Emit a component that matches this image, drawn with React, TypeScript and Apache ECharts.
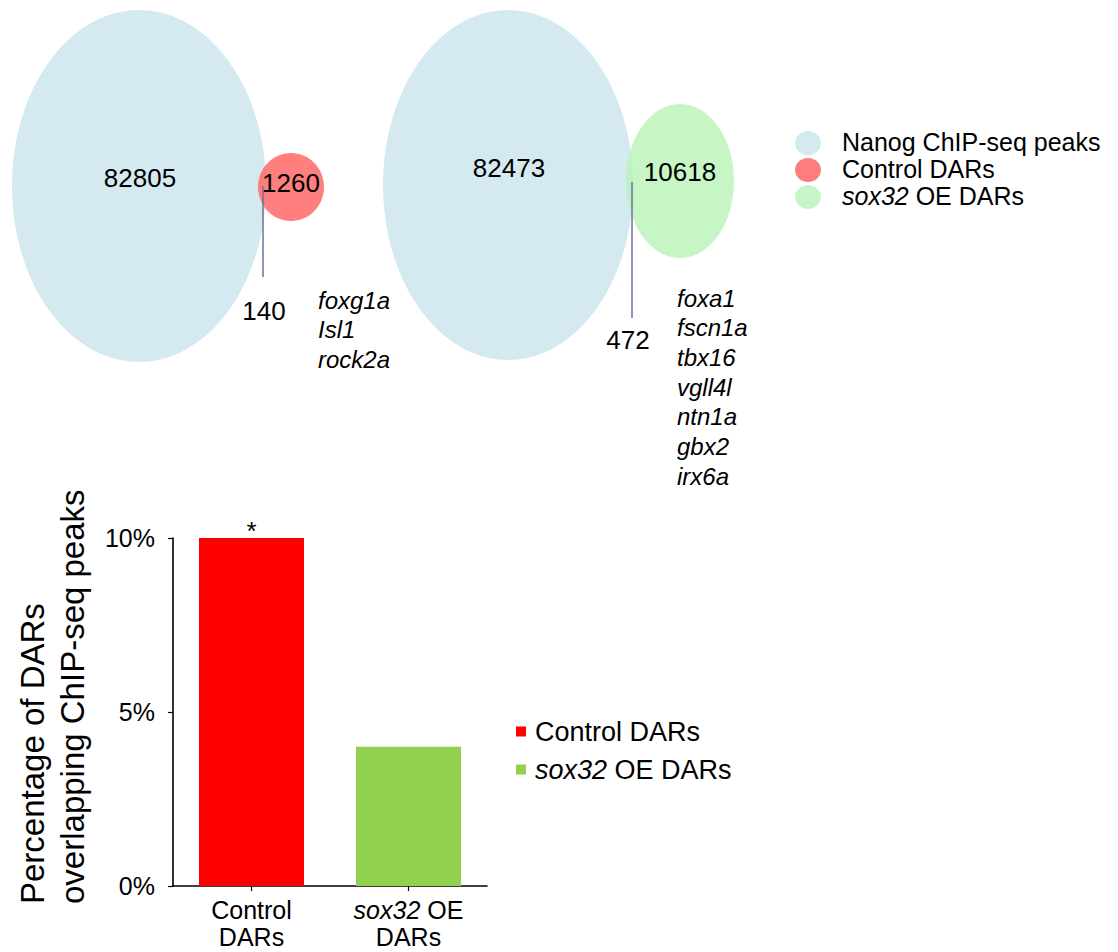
import React, { useEffect, useRef } from "react";
import * as echarts from "echarts";

// ---- data ----
const vennSetNames = ["Nanog ChIP-seq peaks", "Control DARs", "sox32 OE DARs"];
const nanogOnlyCounts = [82805, 82473];
const darOnlyCounts = [1260, 10618];
const sharedCounts = [140, 472];
const sharedGenesControl = ["foxg1a", "Isl1", "rock2a"];
const sharedGenesSox32 = ["foxa1", "fscn1a", "tbx16", "vgll4l", "ntn1a", "gbx2", "irx6a"];

const barCategories = ["Control DARs", "sox32 OE DARs"];
const barValues = [10, 4];
const barSignificance = ["*", ""];
const yTicks = [0, 5, 10];

// ---- styling ----
const FONT = "'Liberation Sans', Arial, Helvetica, sans-serif";
const NANOG_FILL = "#d4eaf0";
const CONTROL_FILL = "rgba(255,112,112,0.9)";
const SOX_FILL = "rgba(184,242,184,0.8)";
const CONTROL_SWATCH = "#ff7d7d";
const SOX_SWATCH = "#c8f5c8";
const BAR_COLORS = ["#ff0000", "#92d050"];
const LINK_COLOR = "#6f6fa0";

// layout of the two Venn panels
const vennLayout = [
  {
    big: { cx: 139, cy: 186, rx: 127, ry: 176 },
    small: { cx: 291, cy: 187, rx: 33, ry: 34 },
    fill: CONTROL_FILL,
    bigLabel: [140, 178],
    smallLabel: [291, 183],
    link: { x: 263, y1: 186, y2: 277 },
    sharedLabel: [264, 311],
    genesX: 318,
    genesY: 300,
    genes: sharedGenesControl,
  },
  {
    big: { cx: 508, cy: 185, rx: 125, ry: 175 },
    small: { cx: 680, cy: 181, rx: 54, ry: 77 },
    fill: SOX_FILL,
    bigLabel: [509, 168],
    smallLabel: [680, 172],
    link: { x: 632, y1: 182, y2: 318 },
    sharedLabel: [628, 340],
    genesX: 677,
    genesY: 298,
    genes: sharedGenesSox32,
  },
];
const GENE_STEP = 29.7;

function withItalicGene(name: string): string {
  return name.startsWith("sox32") ? name.replace("sox32", "{i|sox32}") : name;
}

function buildGraphics() {
  const els: any[] = [];
  vennLayout.forEach((v, k) => {
    els.push({ type: "ellipse", shape: v.big, style: { fill: NANOG_FILL }, z: 1 });
    els.push({ type: "ellipse", shape: v.small, style: { fill: v.fill }, z: 2 });
    els.push({
      type: "line",
      shape: { x1: v.link.x, y1: v.link.y1, x2: v.link.x, y2: v.link.y2 },
      style: { stroke: LINK_COLOR, lineWidth: 1.5 },
      z: 3,
    });
    const num = (text: string, p: number[]) => ({
      type: "text",
      x: p[0],
      y: p[1],
      z: 4,
      style: {
        text,
        fontSize: 26,
        fontFamily: FONT,
        fill: "#000",
        textAlign: "center",
        textVerticalAlign: "middle",
      },
    });
    els.push(num(String(nanogOnlyCounts[k]), v.bigLabel));
    els.push(num(String(darOnlyCounts[k]), v.smallLabel));
    els.push(num(String(sharedCounts[k]), v.sharedLabel));
    v.genes.forEach((g, j) => {
      els.push({
        type: "text",
        x: v.genesX,
        y: v.genesY + j * GENE_STEP,
        z: 4,
        style: {
          text: g,
          fontSize: 24,
          fontStyle: "italic",
          fontFamily: FONT,
          fill: "#000",
          textAlign: "left",
          textVerticalAlign: "middle",
        },
      });
    });
  });

  // Venn legend
  const swatches = [NANOG_FILL, CONTROL_SWATCH, SOX_SWATCH];
  const legendY = [143, 170, 197];
  vennSetNames.forEach((name, j) => {
    els.push({
      type: "ellipse",
      shape: { cx: 808, cy: legendY[j], rx: 13, ry: 12 },
      style: { fill: swatches[j] },
    });
    els.push({
      type: "text",
      x: 842,
      y: legendY[j] - 1,
      style: {
        text: withItalicGene(name),
        rich: { i: { fontStyle: "italic", fontSize: 25, fontFamily: FONT, fill: "#000" } },
        fontSize: 25,
        fontFamily: FONT,
        fill: "#000",
        textAlign: "left",
        textVerticalAlign: "middle",
      },
    });
  });

  // y-axis title of the bar chart
  els.push({
    type: "text",
    x: 52,
    y: 904,
    rotation: Math.PI / 2,
    style: {
      text: "Percentage of DARs\noverlapping ChIP-seq peaks",
      fontSize: 33,
      lineHeight: 40,
      fontFamily: FONT,
      fill: "#000",
      textAlign: "left",
      textVerticalAlign: "middle",
    },
  });
  return els;
}

export default function App() {
  const ref = useRef<HTMLDivElement>(null);

  useEffect(() => {
    if (!ref.current) return;
    const chart = echarts.init(ref.current, null, { renderer: "svg" });

    const series = barCategories.map((name, idx) => ({
      name,
      type: "bar",
      stack: "pct",
      barWidth: 105,
      itemStyle: { color: BAR_COLORS[idx] },
      data: barValues.map((v, j) => (j === idx ? v : "-")),
      label: {
        show: barSignificance[idx] !== "",
        position: "top",
        distance: -6,
        formatter: barSignificance[idx],
        fontSize: 26,
        fontFamily: FONT,
        color: "#000",
      },
    }));

    chart.setOption({
      animation: false,
      backgroundColor: "#ffffff",
      textStyle: { fontFamily: FONT },
      grid: { left: 173, right: 631, top: 538, bottom: 66 },
      xAxis: {
        type: "category",
        data: barCategories,
        axisLine: { lineStyle: { color: "#000", width: 1.6 } },
        axisTick: { show: true, alignWithLabel: true, length: 5, lineStyle: { color: "#000", width: 1.2 } },
        axisLabel: {
          interval: 0,
          hideOverlap: false,
          margin: 10,
          fontSize: 25,
          lineHeight: 27,
          color: "#000",
          fontFamily: FONT,
          formatter: (val: string) => {
            const parts = val.split(" ");
            const last = parts.pop();
            return withItalicGene(parts.join(" ")) + "\n" + last;
          },
          rich: { i: { fontStyle: "italic", fontSize: 25, lineHeight: 27, color: "#000", fontFamily: FONT } },
        },
      },
      yAxis: {
        type: "value",
        min: yTicks[0],
        max: yTicks[yTicks.length - 1],
        interval: yTicks[1] - yTicks[0],
        splitLine: { show: false },
        axisLine: { show: true, lineStyle: { color: "#000", width: 1.6 } },
        axisTick: { show: true, length: 5, lineStyle: { color: "#000", width: 1.2 } },
        axisLabel: { margin: 18, fontSize: 25, color: "#000", fontFamily: FONT, formatter: "{value}%" },
      },
      legend: {
        orient: "vertical",
        left: 516,
        top: 718,
        padding: 0,
        itemWidth: 10,
        itemHeight: 10,
        itemGap: 11,
        icon: "rect",
        data: barCategories,
        formatter: (name: string) => withItalicGene(name),
        textStyle: {
          fontSize: 27,
          color: "#000",
          fontFamily: FONT,
          padding: [0, 0, 0, 4],
          rich: { i: { fontStyle: "italic", fontSize: 27, color: "#000", fontFamily: FONT } },
        },
      },
      graphic: buildGraphics(),
      series,
    });

    return () => chart.dispose();
  }, []);

  return (
    <div
      ref={ref}
      style={{ position: "absolute", left: 0, top: 0, width: 1118, height: 952, background: "#fff" }}
    />
  );
}
